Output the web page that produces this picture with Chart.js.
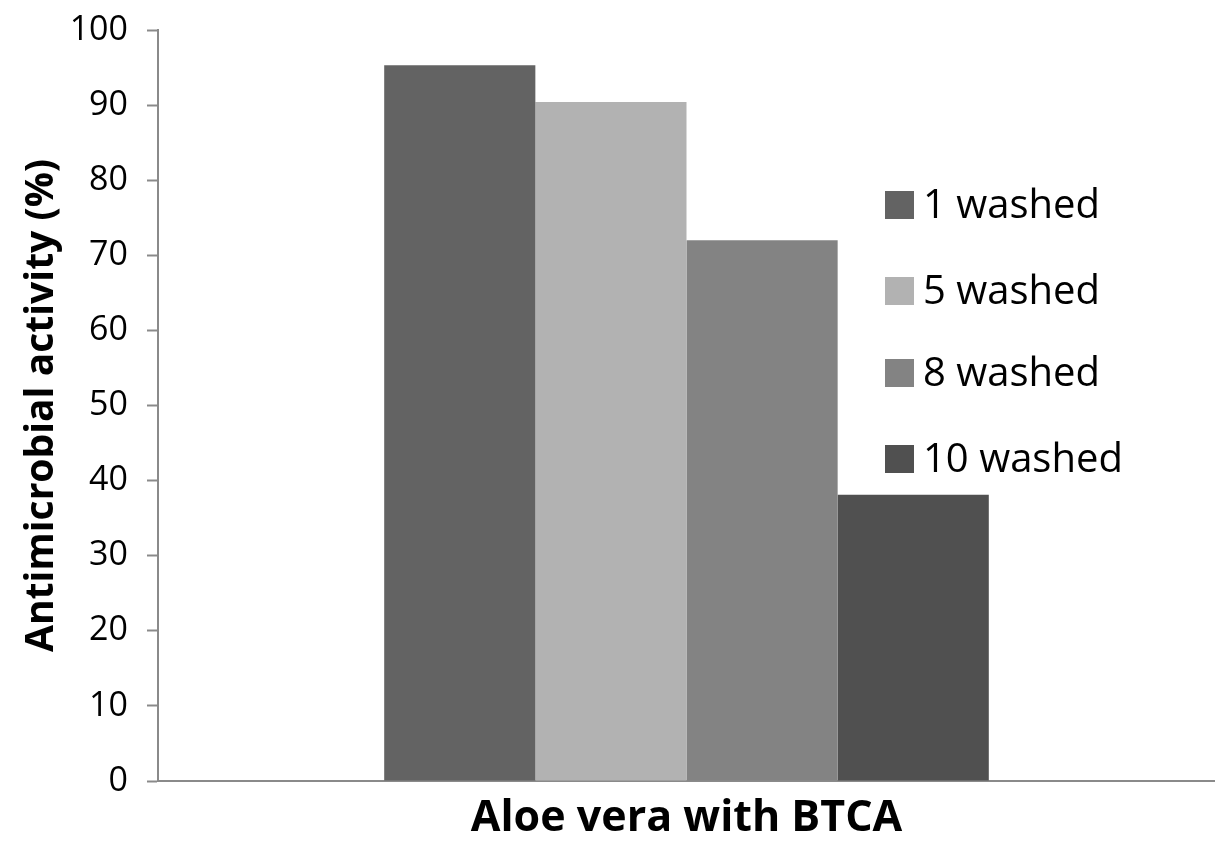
<!DOCTYPE html>
<html>
<head>
<meta charset="utf-8">
<script src="https://cdn.jsdelivr.net/npm/chart.js@4.4.0/dist/chart.umd.min.js"></script>
<style>
  body { margin: 0; background: #fff; }
  #wrap { width: 1215px; height: 845px; position: relative; }
</style>
</head>
<body>
<div id="wrap"><canvas id="bar-chart"></canvas></div>
<script>
// data
const categories = ['Aloe vera with BTCA']
const seriesNames = ['1 washed', '5 washed', '8 washed', '10 washed']
const seriesValues = [[95.3], [90.4], [72.0], [38.1]]
const seriesColors = ['#636363', '#b2b2b2', '#838383', '#505050']
const yTicks = [0, 10, 20, 30, 40, 50, 60, 70, 80, 90, 100]

const FONT = "'Open Sans', 'DejaVu Sans', sans-serif"

// legend sits inside the plot on the right, drawn by hand
const insideLegend = {
  id: 'insideLegend',
  afterDraw(chart) {
    const ctx = chart.ctx
    const rows = [205, 291, 373, 459]
    ctx.save()
    ctx.font = '40px ' + FONT
    ctx.textBaseline = 'middle'
    ctx.textAlign = 'left'
    chart.data.datasets.forEach((ds, i) => {
      ctx.fillStyle = ds.backgroundColor
      ctx.fillRect(885, rows[i] - 14, 29, 28)
      ctx.fillStyle = '#000'
      ctx.fillText(ds.label, 923, rows[i] + 2)
    })
    ctx.restore()
  },
}

const datasets = seriesNames.map((name, i) => ({
  label: name,
  data: seriesValues[i],
  backgroundColor: seriesColors[i],
  borderWidth: 0,
  categoryPercentage: 0.572,
  barPercentage: 1.0,
}))

const chart = new Chart(document.getElementById('bar-chart'), {
  type: 'bar',
  data: { labels: categories, datasets: datasets },
  plugins: [insideLegend],
  options: {
    responsive: true,
    maintainAspectRatio: false,
    animation: false,
    layout: { padding: { top: 30, right: 0, bottom: 0, left: 0 } },
    plugins: {
      legend: { display: false },
      tooltip: { enabled: false },
    },
    scales: {
      x: {
        grid: { display: false },
        border: { display: true, color: '#8a8a8a', width: 2 },
        ticks: { display: false },
        title: {
          display: true,
          text: 'Aloe vera with BTCA',
          color: '#000',
          font: { family: FONT, size: 43, weight: 'bold' },
          padding: { top: 0, bottom: 0 },
        },
        afterFit(scale) { scale.height = 64 },
      },
      y: {
        min: 0,
        max: 100,
        afterBuildTicks(scale) { scale.ticks = yTicks.map((v) => ({ value: v })) },
        grid: {
          drawOnChartArea: false,
          drawTicks: true,
          tickLength: 11,
          tickColor: '#8a8a8a',
          tickWidth: 2,
        },
        border: { display: true, color: '#8a8a8a', width: 2 },
        ticks: {
          color: '#000',
          padding: 19,
          font: { family: FONT, size: 34 },
        },
        title: {
          display: true,
          text: 'Antimicrobial activity (%)',
          color: '#000',
          font: { family: FONT, size: 39, weight: 'bold' },
          padding: { top: 18, bottom: 0 },
        },
        afterFit(scale) {
          scale.width = 158
          scale.paddingTop = 0
          scale.paddingBottom = 0
        },
      },
    },
  },
})
</script>
</body>
</html>
